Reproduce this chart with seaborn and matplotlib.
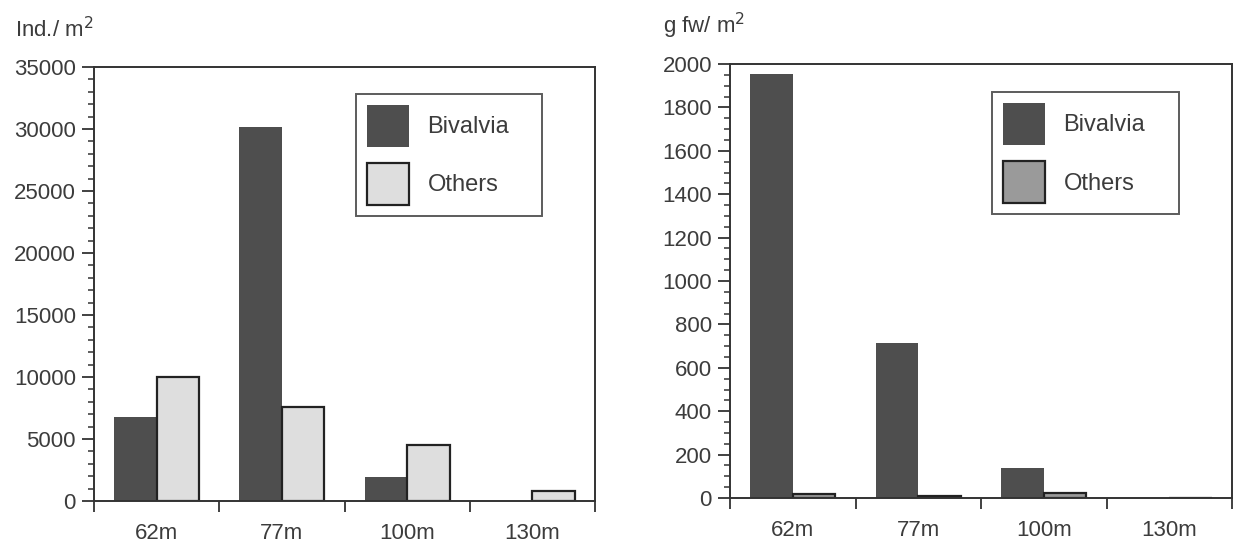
import pandas as pd
import matplotlib
matplotlib.use('Agg')
import matplotlib.pyplot as plt
import seaborn as sns
from matplotlib.ticker import MultipleLocator, FixedLocator

# Данные
depths = ['62m', '77m', '100m', '130m']
groups = ['Bivalvia', 'Others']
ind_bivalvia = [6750, 30200, 1900, 0]
ind_others = [10000, 7550, 4550, 800]
gfw_bivalvia = [1952, 716, 137, 0]
gfw_others = [20, 10, 25, 0]

sns.set_style('white')
plt.rcParams['font.family'] = ['Liberation Sans', 'DejaVu Sans']
text_col = '#3c3c3c'
line_col = '#333333'


def long_table(biv, oth):
    return pd.DataFrame({
        'depth': depths * 2,
        'group': ['Bivalvia'] * len(depths) + ['Others'] * len(depths),
        'value': biv + oth,
    })


def draw_panel(ax, df, others_color, ymax, major, minor, legend_box):
    sns.barplot(data=df, x='depth', y='value', hue='group', order=depths,
                hue_order=groups, palette=['#4e4e4e', others_color],
                width=0.68, saturation=1, gap=0, ax=ax)
    for bar in ax.containers[0]:
        bar.set_edgecolor('none')
    for bar in ax.containers[1]:
        bar.set_edgecolor('#222222')
        bar.set_linewidth(1.6)
    ax.get_legend().remove()

    ax.set_xlim(-0.5, len(depths) - 0.5)
    ax.set_ylim(0, ymax)
    ax.set_xlabel('')
    ax.set_ylabel('')

    # категории подписаны по центру, засечки на границах
    ax.set_xticks(range(len(depths)))
    ax.set_xticklabels(depths)
    ax.xaxis.set_minor_locator(FixedLocator([i - 0.5 for i in range(len(depths) + 1)]))
    ax.tick_params(axis='x', which='major', length=0, pad=16, labelsize=16, labelcolor=text_col)
    ax.tick_params(axis='x', which='minor', bottom=True, direction='out', length=8,
                   width=1.3, color=line_col)

    ax.yaxis.set_major_locator(MultipleLocator(major))
    ax.yaxis.set_minor_locator(MultipleLocator(minor))
    ax.tick_params(axis='y', which='major', left=True, direction='out', length=9,
                   width=1.3, color=line_col, pad=4, labelsize=16, labelcolor=text_col)
    ax.tick_params(axis='y', which='minor', left=True, direction='out', length=4.5,
                   width=1.1, color=line_col)

    for side in ['left', 'right', 'top', 'bottom']:
        ax.spines[side].set_visible(True)
        ax.spines[side].set_color(line_col)
        ax.spines[side].set_linewidth(1.4)

    leg = ax.legend(ax.containers, groups, loc='upper left', bbox_to_anchor=legend_box,
                    mode='expand', fontsize=17, handlelength=1.78, handleheight=2.36,
                    handletextpad=0.8, labelspacing=0.7, borderpad=0.45,
                    borderaxespad=0, fancybox=False, frameon=True, labelcolor=text_col)
    leg.get_frame().set_edgecolor(line_col)
    leg.get_frame().set_linewidth(1.4)


fig = plt.figure(figsize=(12.35, 5.42), dpi=100)
ax1 = fig.add_axes([94 / 1235, 1 - 501 / 542, 501 / 1235, 434 / 542])
ax2 = fig.add_axes([730 / 1235, 1 - 498 / 542, 502 / 1235, 434 / 542])

draw_panel(ax1, long_table(ind_bivalvia, ind_others), '#dedede', 35000, 5000, 1000,
           (0.523, 0.938, 0.371, 0))
draw_panel(ax2, long_table(gfw_bivalvia, gfw_others), '#9a9a9a', 2000, 200, 50,
           (0.522, 0.935, 0.372, 0))

fig.text(15 / 1235, 1 - 37 / 542, 'Ind./ m$^2$', fontsize=16, color=text_col, va='baseline')
fig.text(663 / 1235, 1 - 33 / 542, 'g fw/ m$^2$', fontsize=16, color=text_col, va='baseline')

fig.savefig('out.png', dpi=100, facecolor='white')
